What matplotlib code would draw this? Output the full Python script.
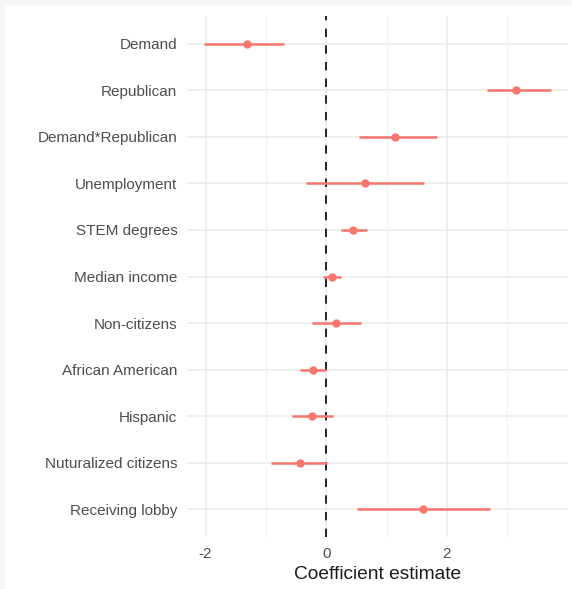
import matplotlib
matplotlib.use("Agg")
import matplotlib.pyplot as plt
from matplotlib.patches import Rectangle

# Regression coefficients with 95% confidence intervals
terms = ["Demand", "Republican", "Demand*Republican", "Unemployment",
         "STEM degrees", "Median income", "Non-citizens", "African American",
         "Hispanic", "Nuturalized citizens", "Receiving lobby"]
estimate = [-1.32, 3.15, 1.14, 0.64, 0.45, 0.09, 0.16, -0.22, -0.24, -0.44, 1.60]
ci_low = [-2.02, 2.66, 0.54, -0.33, 0.24, -0.06, -0.24, -0.44, -0.56, -0.91, 0.51]
ci_high = [-0.70, 3.72, 1.83, 1.62, 0.68, 0.24, 0.58, 0.00, 0.11, 0.02, 2.72]
x_ticks = [-2, 0, 2]
x_minor = [-1, 1, 3]

plt.rcParams["font.family"] = ["Liberation Sans", "DejaVu Sans"]

W, H = 572, 589
fig = plt.figure(figsize=(W / 100, H / 100), dpi=100)
fig.patch.set_facecolor("white")

# faint frame along the top and left edges
fig.patches.append(Rectangle((0, 1 - 6 / H), 1, 6 / H, transform=fig.transFigure,
                             facecolor="#f7f7f7", edgecolor="none", zorder=0))
fig.patches.append(Rectangle((0, 0), 5 / W, 1, transform=fig.transFigure,
                             facecolor="#f7f7f7", edgecolor="none", zorder=0))

left, right, top, bottom = 187, 568, 16, 537
ax = fig.add_axes([left / W, 1 - bottom / H, (right - left) / W, (bottom - top) / H])
ax.set_facecolor("white")

n = len(terms)
ypos = list(range(n - 1, -1, -1))
col = "#F8766D"

# grid
for yy in ypos:
    ax.axhline(yy, color="#ebebeb", lw=1.1, zorder=0)
for xx in x_ticks:
    ax.axvline(xx, color="#ebebeb", lw=1.1, zorder=0)
for xx in x_minor:
    ax.axvline(xx, color="#f1f1f1", lw=0.7, zorder=0)

ax.axvline(0, color="black", lw=1.2, dashes=(5, 5), zorder=1)

ax.hlines(ypos, ci_low, ci_high, color=col, lw=1.8, zorder=2)
ax.plot(estimate, ypos, "o", color=col, markersize=6, markeredgewidth=0, zorder=3)

rng = max(ci_high) - min(ci_low)
ax.set_xlim(min(ci_low) - 0.05 * rng, max(ci_high) + 0.05 * rng)
ax.set_ylim(-0.6, n - 1 + 0.6)

ax.set_xticks(x_ticks)
ax.set_xticklabels([str(v) for v in x_ticks])
ax.set_yticks(ypos)
ax.set_yticklabels(terms)
ax.tick_params(axis="both", length=0, labelsize=11, colors="#4d4d4d")
ax.tick_params(axis="x", pad=7)
ax.tick_params(axis="y", pad=7)
for s in ax.spines.values():
    s.set_visible(False)

ax.set_xlabel("Coefficient estimate", fontsize=13.8, color="#1a1a1a", labelpad=4)

fig.savefig("out.png", dpi=100)
